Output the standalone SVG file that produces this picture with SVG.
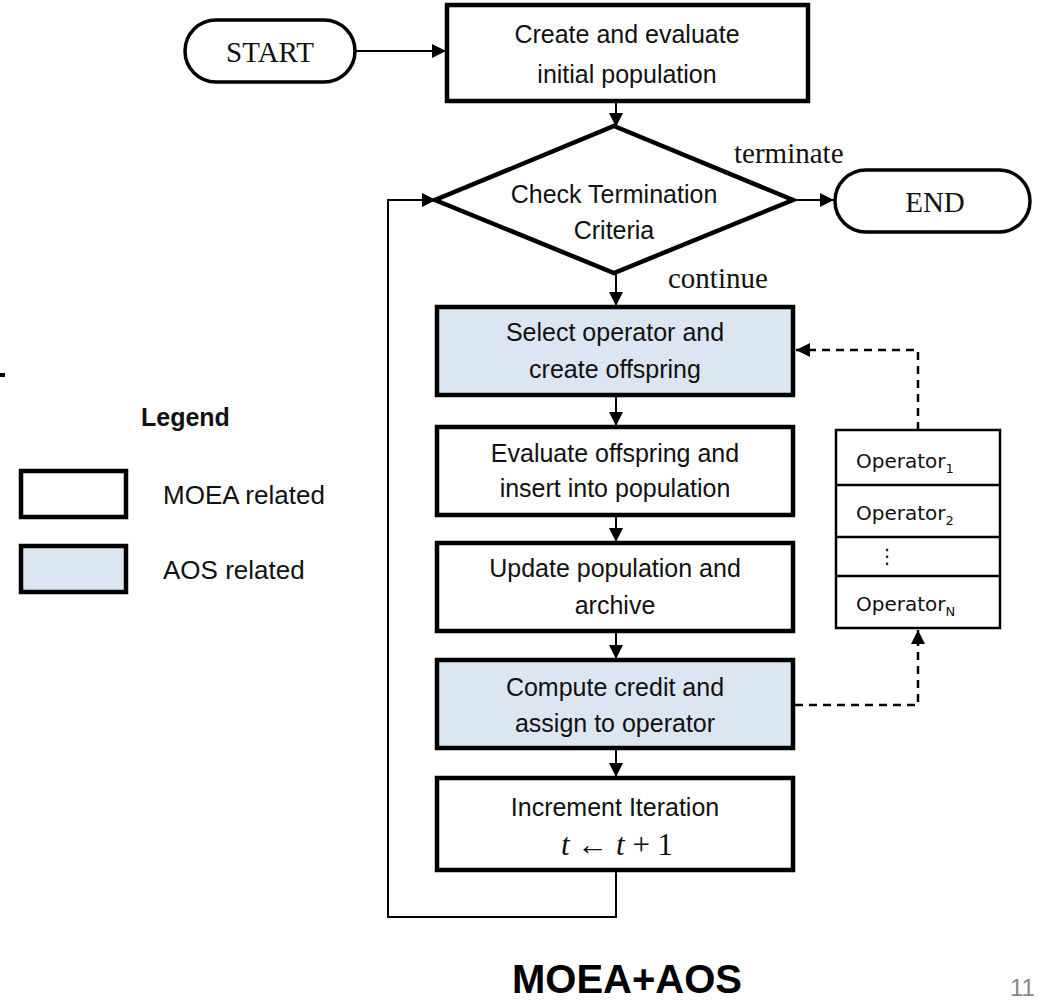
<svg xmlns="http://www.w3.org/2000/svg" width="1038" height="1004" viewBox="0 0 1038 1004">
<defs>
<marker id="arrB" viewBox="0 0 10 10" refX="10" refY="5" markerWidth="14" markerHeight="14" markerUnits="userSpaceOnUse" orient="auto"><path d="M0,0 L10,5 L0,10 z" fill="#000"/></marker>
<style>
.box{fill:#fff;stroke:#000;stroke-width:4.5}
.aos{fill:#dce6f2;stroke:#000;stroke-width:4.5}
.pill{fill:#fff;stroke:#000;stroke-width:3.5}
.t{font-family:"Liberation Sans",Arial,sans-serif;font-size:25px;fill:#111;text-anchor:middle}
.s{font-family:"Liberation Serif","Times New Roman",serif;font-size:29px;fill:#111}
.op{font-family:"DejaVu Sans",Verdana,sans-serif;font-size:20px;fill:#111}
.lg{font-family:"Liberation Sans",Arial,sans-serif;font-size:26px;fill:#111}
.c{fill:none;stroke:#000;stroke-width:2}
.d{fill:none;stroke:#000;stroke-width:2.5;stroke-dasharray:8,6}
</style>
</defs>
<rect width="1038" height="1004" fill="#fff"/>
<rect x="0" y="373" width="5" height="4" fill="#000"/>

<g id="connectors">
<line class="c" x1="355" y1="51" x2="446" y2="51" marker-end="url(#arrB)"/>
<line class="c" x1="616" y1="101" x2="616" y2="127" marker-end="url(#arrB)"/>
<line class="c" x1="792" y1="200" x2="834" y2="200" marker-end="url(#arrB)"/>
<line class="c" x1="616" y1="272" x2="616" y2="306" marker-end="url(#arrB)"/>
<line class="c" x1="616" y1="395" x2="616" y2="426" marker-end="url(#arrB)"/>
<line class="c" x1="616" y1="515" x2="616" y2="542" marker-end="url(#arrB)"/>
<line class="c" x1="616" y1="631" x2="616" y2="659" marker-end="url(#arrB)"/>
<line class="c" x1="616" y1="748" x2="616" y2="777" marker-end="url(#arrB)"/>
<polyline class="c" points="616,870 616,917 388,917 388,200 436,200" marker-end="url(#arrB)"/>
<polyline class="d" points="918,430 918,350 796,350" marker-end="url(#arrB)"/>
<polyline class="d" points="795,705 918,705 918,630" marker-end="url(#arrB)"/>
</g>

<g id="start">
<rect class="pill" x="185" y="20" width="170" height="62" rx="31"/>
<text class="s" x="270" y="62" text-anchor="middle">START</text>
</g>
<g id="init">
<rect class="box" x="447" y="5" width="361" height="96"/>
<text class="t" x="627" y="43">Create and evaluate</text>
<text class="t" x="627" y="83">initial population</text>
</g>
<g id="check">
<polygon points="614,126 793,200 614,273 435,200" fill="#fff" stroke="#000" stroke-width="4.5" stroke-linejoin="miter"/>
<text class="t" x="614" y="203">Check Termination</text>
<text class="t" x="614" y="239">Criteria</text>
</g>
<text class="s" x="734" y="163">terminate</text>
<text class="s" x="668" y="288">continue</text>
<g id="end">
<rect class="pill" x="835" y="170" width="195" height="62" rx="31"/>
<text class="s" x="935" y="212" text-anchor="middle">END</text>
</g>
<g id="select">
<rect class="aos" x="437" y="307" width="356" height="88"/>
<text class="t" x="615" y="341">Select operator and</text>
<text class="t" x="615" y="378">create offspring</text>
</g>
<g id="evaluate">
<rect class="box" x="437" y="427" width="356" height="88"/>
<text class="t" x="615" y="462">Evaluate offspring and</text>
<text class="t" x="615" y="497">insert into population</text>
</g>
<g id="update">
<rect class="box" x="437" y="543" width="356" height="88"/>
<text class="t" x="615" y="577">Update population and</text>
<text class="t" x="615" y="614">archive</text>
</g>
<g id="compute">
<rect class="aos" x="437" y="660" width="356" height="88"/>
<text class="t" x="615" y="696">Compute credit and</text>
<text class="t" x="615" y="732">assign to operator</text>
</g>
<g id="increment">
<rect class="box" x="437" y="778" width="356" height="92"/>
<text class="t" x="615" y="816">Increment Iteration</text>
<text x="617" y="855" text-anchor="middle" font-family="Liberation Serif,serif" font-size="31" fill="#111"><tspan font-style="italic">t</tspan> ← <tspan font-style="italic">t</tspan> + 1</text>
</g>
<g id="operators">
<rect x="836" y="430" width="164" height="198" fill="#fff" stroke="#000" stroke-width="2.5"/>
<line x1="836" y1="485" x2="1000" y2="485" stroke="#000" stroke-width="2.5"/>
<line x1="836" y1="537" x2="1000" y2="537" stroke="#000" stroke-width="2.5"/>
<line x1="836" y1="576" x2="1000" y2="576" stroke="#000" stroke-width="2.5"/>
<text class="op" x="856" y="468">Operator<tspan font-size="13" dy="5">1</tspan></text>
<text class="op" x="856" y="520">Operator<tspan font-size="13" dy="5">2</tspan></text>
<text class="op" x="877" y="563">⋮</text>
<text class="op" x="856" y="611">Operator<tspan font-size="13" dy="5">N</tspan></text>
</g>
<g id="legend">
<text x="141" y="426" font-family="Liberation Sans,Arial,sans-serif" font-size="25" font-weight="bold" fill="#111">Legend</text>
<rect x="21" y="471" width="105" height="46" fill="#fff" stroke="#000" stroke-width="4.5"/>
<text class="lg" x="163" y="504">MOEA related</text>
<rect x="21" y="546" width="105" height="46" fill="#dce6f2" stroke="#000" stroke-width="4.5"/>
<text class="lg" x="163" y="579">AOS related</text>
</g>
<text x="627" y="993" text-anchor="middle" font-family="Liberation Sans,Arial,sans-serif" font-size="40" font-weight="bold" fill="#000">MOEA+AOS</text>
<text x="1010" y="996" font-family="Liberation Sans,Arial,sans-serif" font-size="24" fill="#888">11</text>
</svg>
